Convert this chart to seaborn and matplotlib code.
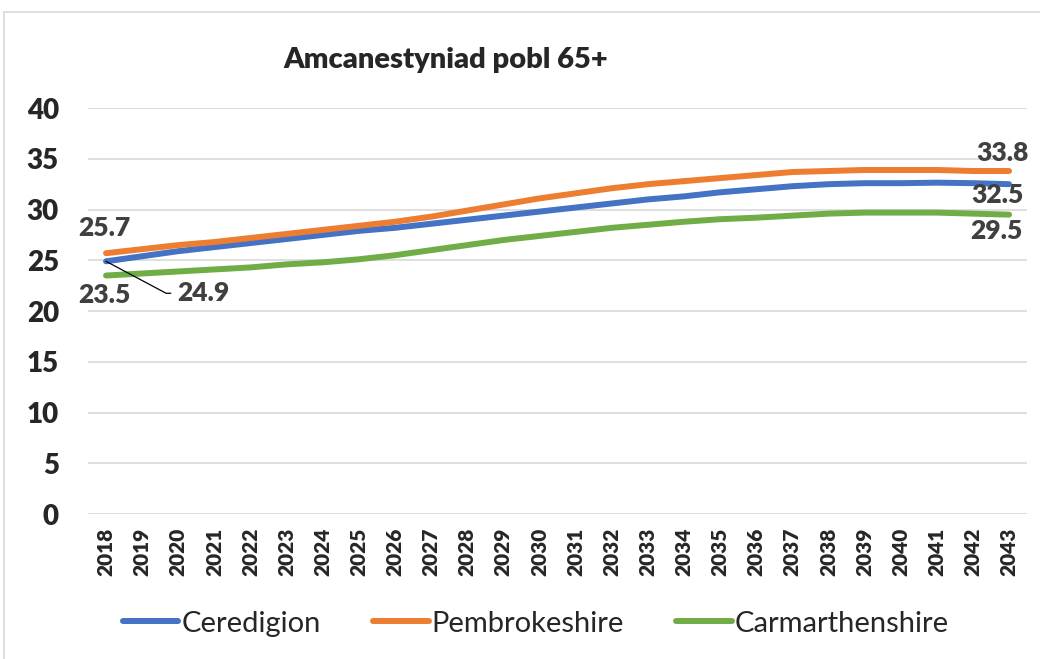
import pandas as pd
import matplotlib.pyplot as plt
import matplotlib.patches as mpatches
import seaborn as sns

years = list(range(2018, 2044))

ceredigion = [24.9, 25.4, 25.9, 26.3, 26.7, 27.1, 27.5, 27.9, 28.2, 28.6,
              29.0, 29.4, 29.8, 30.2, 30.6, 31.0, 31.3, 31.7, 32.0, 32.3,
              32.5, 32.6, 32.6, 32.65, 32.6, 32.5]
pembrokeshire = [25.7, 26.1, 26.5, 26.8, 27.2, 27.6, 28.0, 28.4, 28.8, 29.3,
                 29.9, 30.5, 31.1, 31.6, 32.1, 32.5, 32.8, 33.1, 33.4, 33.7,
                 33.8, 33.9, 33.9, 33.9, 33.8, 33.8]
carmarthenshire = [23.5, 23.7, 23.9, 24.1, 24.3, 24.6, 24.8, 25.1, 25.5, 26.0,
                   26.5, 27.0, 27.4, 27.8, 28.2, 28.5, 28.8, 29.05, 29.2, 29.4,
                   29.6, 29.7, 29.7, 29.7, 29.6, 29.5]

series_names = ["Ceredigion", "Pembrokeshire", "Carmarthenshire"]
colors = ["#4472C4", "#ED7D31", "#70AD47"]
title = "Amcanestyniad pobl 65+"

df = pd.DataFrame({
    "year": years * 3,
    "value": ceredigion + pembrokeshire + carmarthenshire,
    "area": sum([[n] * len(years) for n in series_names], []),
})

sns.set_style("white")
plt.rcParams["font.family"] = ["Lato", "DejaVu Sans"]
W = 800  # heavy-ish weight, Excel bold look

fig = plt.figure(figsize=(10.4, 6.59), dpi=100)
ax = fig.add_axes([0.0846, 0.22, 0.903, 0.616])

sns.lineplot(data=df, x="year", y="value", hue="area", palette=colors,
             linewidth=4.3, ax=ax, legend=True, solid_capstyle="round")

ax.set_ylim(0, 40)
ax.set_yticks(range(0, 41, 5))
ax.set_xlim(2017.5, 2043.5)
ax.set_xticks(years)
ax.set_xticklabels([str(y) for y in years], rotation=90, fontsize=15, fontweight=W)
ax.set_yticklabels([str(v) for v in range(0, 41, 5)], fontsize=20, fontweight=W)
ax.tick_params(axis="y", length=0, pad=21)
ax.tick_params(axis="x", length=0, pad=10)
ax.set_xlabel("")
ax.set_ylabel("")
ax.grid(axis="y", color="#D9D9D9", linewidth=1.2)
ax.set_axisbelow(True)
for s in ax.spines.values():
    s.set_visible(False)

# data labels at start and end
lab = dict(fontsize=19, fontweight=W, color="#404040", ha="center", va="center",
           textcoords="offset points")
ax.annotate(f"{pembrokeshire[0]}", (years[0], pembrokeshire[0]), xytext=(-1, 18), **lab)
ax.annotate(f"{carmarthenshire[0]}", (years[0], carmarthenshire[0]), xytext=(-1, -14), **lab)
lab_left = dict(lab, ha="left")
ax.annotate(f"{ceredigion[0]}", (years[0], ceredigion[0]), xytext=(51, -23),
            arrowprops=dict(arrowstyle="-", color="black", lw=0.9,
                            connectionstyle="angle,angleA=0,angleB=-28,rad=0",
                            relpos=(0, 0.5), shrinkA=2, shrinkB=0), **lab_left)
ax.annotate(f"{pembrokeshire[-1]}", (years[-1], pembrokeshire[-1]), xytext=(-5, 13), **lab)
ax.annotate(f"{ceredigion[-1]}", (years[-1], ceredigion[-1]), xytext=(-8, -8), **lab)
ax.annotate(f"{carmarthenshire[-1]}", (years[-1], carmarthenshire[-1]), xytext=(-9, -12), **lab)

fig.text(0.429, 0.909, title, fontsize=21, fontweight=W, ha="center", va="center")

leg = ax.legend(loc="center", bbox_to_anchor=(0.477, -0.27),
                bbox_transform=ax.transAxes, ncol=3, frameon=False,
                fontsize=21, handlelength=1.9, handletextpad=0.1, columnspacing=1.8)
for line in leg.get_lines():
    line.set_linewidth(4.3)
    line.set_solid_capstyle("round")

fig.patches.append(mpatches.Rectangle((0.004, -0.01), 1.1, 0.992, transform=fig.transFigure,
                                      fill=False, edgecolor="#D9D9D9", linewidth=1.2))

plt.savefig("out.png", dpi=100)
plt.close()
